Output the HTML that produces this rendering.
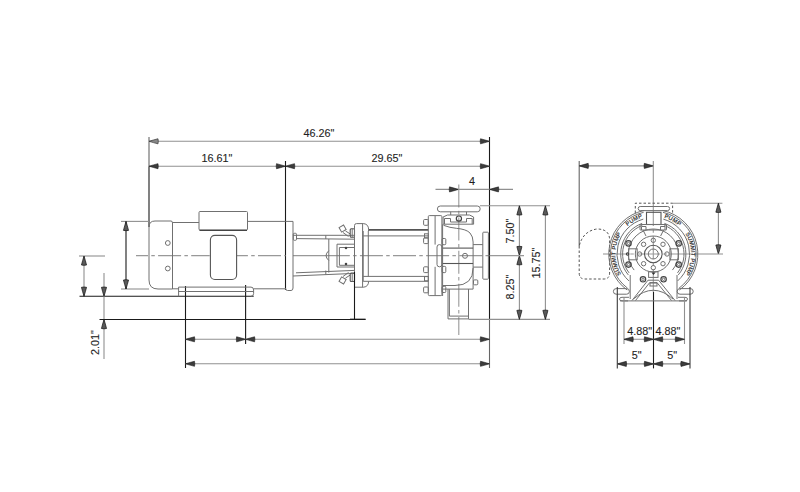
<!DOCTYPE html>
<html><head><meta charset="utf-8"><style>
html,body{margin:0;padding:0;background:#fff;width:800px;height:492px;overflow:hidden}
svg{display:block}
.g{fill:none;stroke:#707070;stroke-width:1}
.g2{fill:none;stroke:#444;stroke-width:1.2}
.g3{fill:none;stroke:#555;stroke-width:1.6}
.k{fill:none;stroke:#1a1a1a;stroke-width:1.1}
.lt3{font-family:"Liberation Sans",sans-serif;font-size:6px;font-weight:bold;fill:#3a3a3a;stroke:none}
.km{fill:none;stroke:#666;stroke-width:1.1}
.ah2{fill:#888;stroke:#333;stroke-width:0.7}
.k4{fill:none;stroke:#3a3a3a;stroke-width:1.1}
.ah3{fill:#5a5a5a;stroke:#111;stroke-width:0.7}
.lt{fill:none;stroke:#777;stroke-width:0.9}
.lt2{fill:none;stroke:#999;stroke-width:0.8}
.d{fill:none;stroke:#909090;stroke-width:1.1}
.c{fill:none;stroke:#999;stroke-width:1.1;stroke-dasharray:23 3.3 3.5 3.3}
.cs{fill:none;stroke:#999;stroke-width:1.1}
.g2l{fill:none;stroke:#555;stroke-width:1.1}
.dash{fill:none;stroke:#555;stroke-width:1;stroke-dasharray:2.5 2}
.ah{fill:#3c3c3c;stroke:#111;stroke-width:0.55}
text{font-family:"Liberation Sans",sans-serif;font-size:10.8px;fill:#1e1e1e;stroke:#1e1e1e;stroke-width:0.1}
</style></head><body>
<svg width="800" height="492" viewBox="0 0 800 492">
<line x1="149" y1="137" x2="149" y2="166.2" class="km"/>
<line x1="149" y1="166.2" x2="149" y2="227" class="k"/>
<line x1="489.5" y1="137" x2="489.5" y2="319.4" class="k"/>
<line x1="489.5" y1="319.4" x2="489.5" y2="368" class="km"/>
<line x1="149" y1="141.3" x2="489.5" y2="141.3" class="d"/>
<path d="M149.00,141.30 Q153.50,142.70 158.00,143.85 Q158.60,141.30 158.00,138.75 Q153.50,139.90 149.00,141.30 Z" class="ah2"/>
<path d="M489.50,141.30 Q485.00,139.90 480.50,138.75 Q479.90,141.30 480.50,143.85 Q485.00,142.70 489.50,141.30 Z" class="ah"/>
<text x="303.5" y="137" text-anchor="start">46.26&quot;</text>
<line x1="149" y1="166.2" x2="489.5" y2="166.2" class="d"/>
<path d="M149.00,166.20 Q153.50,167.60 158.00,168.75 Q158.60,166.20 158.00,163.65 Q153.50,164.80 149.00,166.20 Z" class="ah"/>
<path d="M285.50,166.20 Q281.00,164.80 276.50,163.65 Q275.90,166.20 276.50,168.75 Q281.00,167.60 285.50,166.20 Z" class="ah"/>
<path d="M285.50,166.20 Q290.00,167.60 294.50,168.75 Q295.10,166.20 294.50,163.65 Q290.00,164.80 285.50,166.20 Z" class="ah"/>
<path d="M489.50,166.20 Q485.00,164.80 480.50,163.65 Q479.90,166.20 480.50,168.75 Q485.00,167.60 489.50,166.20 Z" class="ah"/>
<text x="201.5" y="162" text-anchor="start">16.61&quot;</text>
<text x="371.5" y="161.5" text-anchor="start">29.65&quot;</text>
<line x1="285.5" y1="161" x2="285.5" y2="290" class="k"/>
<line x1="435.5" y1="189.4" x2="513" y2="189.4" class="d"/>
<path d="M458.50,189.40 Q454.00,188.00 449.50,186.85 Q448.90,189.40 449.50,191.95 Q454.00,190.80 458.50,189.40 Z" class="ah"/>
<path d="M489.50,189.40 Q494.00,190.80 498.50,191.95 Q499.10,189.40 498.50,186.85 Q494.00,188.00 489.50,189.40 Z" class="ah"/>
<text x="469" y="184.7" text-anchor="start">4</text>
<line x1="458.8" y1="184.5" x2="458.8" y2="335" class="c"/>
<line x1="480" y1="205.8" x2="550" y2="205.8" class="d"/>
<line x1="468.5" y1="319.4" x2="550" y2="319.4" class="d"/>
<line x1="519.4" y1="205.8" x2="519.4" y2="319.4" class="d"/>
<path d="M519.40,205.80 Q518.00,210.30 516.85,214.80 Q519.40,215.40 521.95,214.80 Q520.80,210.30 519.40,205.80 Z" class="ah3"/>
<path d="M519.40,255.60 Q520.80,251.10 521.95,246.60 Q519.40,246.00 516.85,246.60 Q518.00,251.10 519.40,255.60 Z" class="ah3"/>
<path d="M519.40,255.60 Q518.00,260.10 516.85,264.60 Q519.40,265.20 521.95,264.60 Q520.80,260.10 519.40,255.60 Z" class="ah3"/>
<path d="M519.40,319.40 Q520.80,314.90 521.95,310.40 Q519.40,309.80 516.85,310.40 Q518.00,314.90 519.40,319.40 Z" class="ah3"/>
<line x1="545.4" y1="205.8" x2="545.4" y2="319.4" class="d"/>
<path d="M545.40,205.80 Q544.00,210.30 542.85,214.80 Q545.40,215.40 547.95,214.80 Q546.80,210.30 545.40,205.80 Z" class="ah3"/>
<path d="M545.40,319.40 Q546.80,314.90 547.95,310.40 Q545.40,309.80 542.85,310.40 Q544.00,314.90 545.40,319.40 Z" class="ah3"/>
<text x="0" y="0" transform="translate(514,231) rotate(-90)" text-anchor="middle">7.50&quot;</text>
<text x="0" y="0" transform="translate(514,287) rotate(-90)" text-anchor="middle">8.25&quot;</text>
<text x="0" y="0" transform="translate(540,263) rotate(-90)" text-anchor="middle">15.75&quot;</text>
<line x1="136" y1="255.6" x2="209.7" y2="255.6" class="c" style="stroke-dashoffset:11"/>
<line x1="236.6" y1="255.6" x2="285.5" y2="255.6" class="c" style="stroke-dashoffset:11.7"/>
<line x1="293" y1="255.6" x2="328.8" y2="255.6" class="cs"/>
<line x1="328.8" y1="255.6" x2="489.5" y2="255.6" class="c" style="stroke-dashoffset:2"/>
<line x1="489.5" y1="255.6" x2="524" y2="255.6" class="cs"/>
<line x1="79" y1="256" x2="105" y2="256" class="d"/>
<line x1="84" y1="256" x2="84" y2="296.3" class="d"/>
<path d="M84.00,256.00 Q82.60,260.50 81.45,265.00 Q84.00,265.60 86.55,265.00 Q85.40,260.50 84.00,256.00 Z" class="ah3"/>
<path d="M84.00,296.30 Q85.40,291.80 86.55,287.30 Q84.00,286.70 81.45,287.30 Q82.60,291.80 84.00,296.30 Z" class="ah3"/>
<line x1="79.5" y1="296.3" x2="253.7" y2="296.3" class="k"/>
<line x1="104" y1="273" x2="104" y2="359" class="d"/>
<path d="M104.00,296.30 Q105.40,291.80 106.55,287.30 Q104.00,286.70 101.45,287.30 Q102.60,291.80 104.00,296.30 Z" class="ah3"/>
<path d="M104.00,319.50 Q102.60,324.00 101.45,328.50 Q104.00,329.10 106.55,328.50 Q105.40,324.00 104.00,319.50 Z" class="ah3"/>
<line x1="99.5" y1="319.5" x2="365.5" y2="319.5" class="k"/>
<text x="0" y="0" transform="translate(99,342.5) rotate(-90)" text-anchor="middle">2.01&quot;</text>
<line x1="121" y1="221.4" x2="149" y2="221.4" class="d"/>
<line x1="121" y1="289" x2="149" y2="289" class="d"/>
<line x1="126" y1="221.4" x2="126" y2="289" class="k"/>
<path d="M126.00,221.40 Q124.60,225.90 123.45,230.40 Q126.00,231.00 128.55,230.40 Q127.40,225.90 126.00,221.40 Z" class="ah3"/>
<path d="M126.00,289.00 Q127.40,284.50 128.55,280.00 Q126.00,279.40 123.45,280.00 Q124.60,284.50 126.00,289.00 Z" class="ah3"/>
<line x1="185.5" y1="286" x2="185.5" y2="368" class="k"/>
<line x1="245.6" y1="285" x2="245.6" y2="344" class="k"/>
<line x1="185.5" y1="339.3" x2="489.5" y2="339.3" class="d"/>
<path d="M185.50,339.30 Q190.00,340.70 194.50,341.85 Q195.10,339.30 194.50,336.75 Q190.00,337.90 185.50,339.30 Z" class="ah"/>
<path d="M245.60,339.30 Q241.10,337.90 236.60,336.75 Q236.00,339.30 236.60,341.85 Q241.10,340.70 245.60,339.30 Z" class="ah"/>
<path d="M245.60,339.30 Q250.10,340.70 254.60,341.85 Q255.20,339.30 254.60,336.75 Q250.10,337.90 245.60,339.30 Z" class="ah"/>
<path d="M489.50,339.30 Q485.00,337.90 480.50,336.75 Q479.90,339.30 480.50,341.85 Q485.00,340.70 489.50,339.30 Z" class="ah"/>
<line x1="185.5" y1="363.8" x2="489.5" y2="363.8" class="d"/>
<path d="M185.50,363.80 Q190.00,365.20 194.50,366.35 Q195.10,363.80 194.50,361.25 Q190.00,362.40 185.50,363.80 Z" class="ah"/>
<path d="M489.50,363.80 Q485.00,362.40 480.50,361.25 Q479.90,363.80 480.50,366.35 Q485.00,365.20 489.50,363.80 Z" class="ah"/>
<path d="M149,227 Q149,221 155,221 L171,221 Q172.5,221 172.5,223 L172.5,289 L158,289 Q149,289 149,280 Z" class="g"/>
<circle cx="167.8" cy="243" r="2.4" class="g"/>
<circle cx="167.8" cy="268.5" r="2.4" class="g"/>
<line x1="172.5" y1="222.5" x2="199" y2="222.5" class="g"/>
<rect x="199" y="211.5" width="48.5" height="18.5" rx="1" class="g"/>
<line x1="199.5" y1="230.3" x2="247" y2="230.3" class="g2"/>
<line x1="247.5" y1="221.4" x2="285.5" y2="221.4" class="g"/>
<rect x="210.4" y="235.4" width="26.2" height="44.1" rx="4.5" class="g2l"/>
<line x1="253.6" y1="288.8" x2="285.5" y2="288.8" class="g"/>
<line x1="172.5" y1="288.8" x2="178.6" y2="288.8" class="g"/>
<path d="M285.5,221.4 L293,221.4 L293,288 Q293,290.5 291,290.5 L287.5,290.5 Q285.5,290.5 285.5,288" class="g"/>
<path d="M178.6,296.3 L178.6,287.1 L251,287.1 Q253.6,287.1 253.6,290 L253.6,293.5 Q253.6,296.3 251,296.3" class="g"/>
<line x1="178.6" y1="291.5" x2="253.6" y2="291.5" class="g"/>
<line x1="293" y1="235.3" x2="354.5" y2="235.3" class="g"/>
<line x1="296" y1="238.6" x2="354.5" y2="239.2" class="g"/>
<line x1="296" y1="272.8" x2="354.5" y2="270.4" class="g"/>
<line x1="293" y1="276" x2="354.5" y2="273.4" class="g"/>
<rect x="293.3" y="233.3" width="3.2" height="7" rx="1" class="g"/>
<line x1="325.8" y1="235.3" x2="325.8" y2="239" class="g"/>
<line x1="325.8" y1="270.5" x2="325.8" y2="274.5" class="g"/>
<line x1="328.8" y1="239" x2="328.8" y2="272.6" class="g"/>
<path d="M328.8,250.7 Q323.3,255.6 328.8,260.5" class="g"/>
<path d="M354.5,244.2 L337,244.2 L337,267 L354.5,267" class="g"/>
<path d="M354.5,247.5 L339.4,247.5 L339.4,265.3 L354.5,265.3" class="g"/>
<circle cx="346" cy="248" r="0.7" class="g2"/>
<circle cx="346" cy="264" r="0.7" class="g2"/>
<g transform="translate(342.6,228.6) rotate(-30)"><rect x="-2.6" y="-2.6" width="5.2" height="5.2" class="g"/></g>
<path d="M343,232.5 L348.5,236.5 M345.5,231 L350,233.8" class="g"/>
<g transform="translate(342.6,280.4) rotate(30)"><rect x="-2.6" y="-2.6" width="5.2" height="5.2" class="g"/></g>
<path d="M343,276.5 L348.5,272.5 M345.5,278 L350,275.2" class="g"/>
<rect x="350.2" y="228.8" width="4.3" height="8.5" rx="1" class="g2l"/>
<line x1="352.2" y1="229" x2="352.2" y2="237.2" class="g"/>
<rect x="350.2" y="273" width="4.3" height="8.5" rx="1" class="g2l"/>
<line x1="352.2" y1="273.2" x2="352.2" y2="281.4" class="g"/>
<path d="M354.5,287.2 L354.5,225.5 Q354.5,223.6 356.5,223.6 L363.7,223.6 Q368.6,224.3 368.6,229.5 L368.6,231" class="g"/>
<line x1="362.6" y1="223.6" x2="362.6" y2="287.2" class="g"/>
<path d="M354.5,287.2 L363.7,287.2 Q368.6,286.5 368.6,281.3" class="g"/>
<line x1="368.6" y1="229.9" x2="428.3" y2="229.9" class="g3"/>
<line x1="363.2" y1="235.9" x2="428.3" y2="235.9" class="g"/>
<line x1="363.2" y1="276.4" x2="428.3" y2="276.4" class="g"/>
<line x1="363.2" y1="281.3" x2="428.3" y2="281.3" class="g"/>
<line x1="363.2" y1="231" x2="363.2" y2="281.3" class="g"/>
<line x1="368.3" y1="231" x2="368.3" y2="276.4" class="g"/>
<line x1="354.5" y1="272" x2="354.5" y2="319.3" class="k"/>
<line x1="350" y1="319.2" x2="365.6" y2="319.2" class="k"/>
<rect x="428.3" y="215.6" width="13.6" height="80" rx="1" class="g"/>
<line x1="435.1" y1="216" x2="435.1" y2="244.6" class="g"/>
<line x1="435.1" y1="266.8" x2="435.1" y2="295.5" class="g"/>
<rect x="423.6" y="219.5" width="4.7" height="5.8" rx="1" class="g"/>
<rect x="423.6" y="237.8" width="4.7" height="5.8" rx="1" class="g"/>
<rect x="423.6" y="266.8" width="4.7" height="5.8" rx="1" class="g"/>
<rect x="423.6" y="287" width="4.7" height="5.8" rx="1" class="g"/>
<rect x="424.5" y="233.8" width="3.8" height="4.2" rx="0" class="g"/>
<rect x="424.5" y="276.6" width="3.8" height="4.2" rx="0" class="g"/>
<rect x="442" y="238.5" width="3.8" height="6.2" rx="1" class="g"/>
<rect x="442" y="266.4" width="3.8" height="6.2" rx="1" class="g"/>
<rect x="442" y="286.3" width="3.8" height="6.2" rx="1" class="g"/>
<rect x="437" y="244.6" width="4.9" height="22.2" rx="2.4" class="g"/>
<rect x="437.4" y="206" width="42.8" height="5.8" rx="2.9" class="g"/>
<line x1="450.7" y1="211.8" x2="450.7" y2="215" class="g"/>
<line x1="466.5" y1="211.8" x2="466.5" y2="215" class="g"/>
<path d="M443.1,224.2 L443.1,217 L447.5,215 L469.5,215 L473.6,217 L473.6,224.2 Z" class="g"/>
<path d="M444.5,224 L444.5,218.5 L450.5,218.5 L450.5,222 L466.5,222 L466.5,218.5 L472.2,218.5 L472.2,224" class="g"/>
<circle cx="458.9" cy="218.6" r="2.6" class="g2"/>
<path d="M443.5,225.3 Q450,227.8 456.3,228.3 Q466.5,229.2 470,233 Q473.1,236.5 473.1,242 L473.1,289.1" class="g"/>
<line x1="442.6" y1="248.1" x2="473.1" y2="248.1" class="g2l"/>
<line x1="442.6" y1="263.5" x2="473.1" y2="263.5" class="g2l"/>
<circle cx="465" cy="255.8" r="2.5" class="g"/>
<path d="M473.1,268 Q473.1,285.5 455,285.5 L443,285.5" class="g"/>
<line x1="443" y1="289.1" x2="473.1" y2="289.1" class="g"/>
<line x1="442.6" y1="224.2" x2="442.6" y2="296" class="g"/>
<rect x="482.8" y="232.2" width="5.6" height="47" rx="0.8" class="g"/>
<line x1="473.1" y1="244.6" x2="482.8" y2="244.6" class="g"/>
<line x1="473.1" y1="267.1" x2="482.8" y2="267.1" class="g"/>
<rect x="473.5" y="279.9" width="4.3" height="4.9" rx="1" class="g"/>
<path d="M448,289.1 L448,318.9 L468.5,318.9 L468.5,289.1" class="g"/>
<path d="M449.4,289.1 L449.4,316.1 L468.5,316.1" class="g"/>
<line x1="579.2" y1="161" x2="579.2" y2="246" class="km"/>
<line x1="579.2" y1="165.9" x2="653.3" y2="165.9" class="d"/>
<path d="M579.20,165.90 Q583.70,167.30 588.20,168.45 Q588.80,165.90 588.20,163.35 Q583.70,164.50 579.20,165.90 Z" class="ah"/>
<path d="M653.30,165.90 Q648.80,164.50 644.30,163.35 Q643.70,165.90 644.30,168.45 Q648.80,167.30 653.30,165.90 Z" class="ah"/>
<line x1="653.3" y1="161" x2="653.3" y2="203" class="d"/>
<line x1="653.3" y1="203" x2="653.3" y2="292" class="c"/>
<line x1="653.5" y1="292" x2="653.5" y2="368.4" class="k"/>
<path d="M635.3,213 L635.3,203.2 L672.6,203.2 L672.6,213" class="dash"/>
<rect x="638.2" y="206.5" width="31.4" height="4.1" rx="2" class="g"/>
<line x1="672.6" y1="203.2" x2="722.4" y2="203.2" class="d"/>
<line x1="718.4" y1="203.2" x2="718.4" y2="254" class="d"/>
<path d="M718.40,203.20 Q717.00,207.70 715.85,212.20 Q718.40,212.80 720.95,212.20 Q719.80,207.70 718.40,203.20 Z" class="ah3"/>
<path d="M718.40,254.00 Q719.80,249.50 720.95,245.00 Q718.40,244.40 715.85,245.00 Q717.00,249.50 718.40,254.00 Z" class="ah3"/>
<line x1="603" y1="254" x2="612" y2="254" class="cs"/>
<line x1="612" y1="254" x2="694" y2="254" class="c" style="stroke-dashoffset:8"/>
<line x1="694" y1="254" x2="723" y2="254" class="cs"/>
<path d="M579.2,246 L579.2,273 Q579.2,279 585,279 L604,279 Q609.6,279 609.6,273 L609.6,240 Q609.6,229 597,229 Q583,231 579.2,246" class="dash"/>
<path d="M627.14,290.00 A44.5,44.5 0 0 1 644.05,210.47" class="g"/>
<path d="M662.55,210.47 A44.5,44.5 0 0 1 679.46,290.00" class="g"/>
<path d="M627.54,288.18 A42.8,42.8 0 0 1 643.67,212.30" class="g"/>
<path d="M662.93,212.30 A42.8,42.8 0 0 1 679.06,288.18" class="g"/>
<path d="M629.01,280.98 A36.3,36.3 0 0 1 643.29,219.11" class="g"/>
<path d="M663.31,219.11 A36.3,36.3 0 0 1 677.59,280.98" class="g"/>
<path d="M628.33,274.95 A32.6,32.6 0 0 1 642.15,223.37" class="g"/>
<path d="M664.45,223.37 A32.6,32.6 0 0 1 678.27,274.95" class="g"/>
<path d="M629.11,272.90 A30.7,30.7 0 0 1 642.30,225.34" class="g"/>
<path d="M664.30,225.34 A30.7,30.7 0 0 1 677.49,272.90" class="g"/>
<text class="lt3" text-anchor="middle" transform="translate(620.34,272.50) rotate(240.7)">S</text>
<text class="lt3" text-anchor="middle" transform="translate(618.50,268.76) rotate(247.0)">U</text>
<text class="lt3" text-anchor="middle" transform="translate(616.95,264.37) rotate(254.1)">M</text>
<text class="lt3" text-anchor="middle" transform="translate(615.90,259.48) rotate(261.7)">M</text>
<text class="lt3" text-anchor="middle" transform="translate(615.56,256.17) rotate(266.7)">I</text>
<text class="lt3" text-anchor="middle" transform="translate(615.50,253.50) rotate(270.8)">T</text>
<text class="lt3" text-anchor="middle" transform="translate(615.98,248.03) rotate(279.1)">P</text>
<text class="lt3" text-anchor="middle" transform="translate(616.86,243.96) rotate(285.4)">U</text>
<text class="lt3" text-anchor="middle" transform="translate(618.37,239.55) rotate(292.5)">M</text>
<text class="lt3" text-anchor="middle" transform="translate(620.34,235.50) rotate(299.3)">P</text>
<text class="lt3" text-anchor="middle" transform="translate(686.26,235.50) rotate(60.7)">S</text>
<text class="lt3" text-anchor="middle" transform="translate(688.10,239.24) rotate(67.0)">U</text>
<text class="lt3" text-anchor="middle" transform="translate(689.65,243.63) rotate(74.1)">M</text>
<text class="lt3" text-anchor="middle" transform="translate(690.70,248.52) rotate(81.7)">M</text>
<text class="lt3" text-anchor="middle" transform="translate(691.04,251.83) rotate(86.7)">I</text>
<text class="lt3" text-anchor="middle" transform="translate(691.10,254.50) rotate(90.8)">T</text>
<text class="lt3" text-anchor="middle" transform="translate(690.62,259.97) rotate(99.1)">P</text>
<text class="lt3" text-anchor="middle" transform="translate(689.74,264.04) rotate(105.4)">U</text>
<text class="lt3" text-anchor="middle" transform="translate(688.23,268.45) rotate(112.5)">M</text>
<text class="lt3" text-anchor="middle" transform="translate(686.26,272.50) rotate(119.3)">P</text>
<text class="lt3" text-anchor="middle" transform="translate(629.10,224.96) rotate(320.2)">P</text>
<text class="lt3" text-anchor="middle" transform="translate(632.44,222.47) rotate(326.5)">U</text>
<text class="lt3" text-anchor="middle" transform="translate(636.48,220.15) rotate(333.6)">M</text>
<text class="lt3" text-anchor="middle" transform="translate(640.62,218.39) rotate(340.4)">P</text>
<text class="lt3" text-anchor="middle" transform="translate(665.98,218.39) rotate(379.6)">P</text>
<text class="lt3" text-anchor="middle" transform="translate(669.82,220.00) rotate(385.9)">U</text>
<text class="lt3" text-anchor="middle" transform="translate(673.88,222.29) rotate(393.0)">M</text>
<text class="lt3" text-anchor="middle" transform="translate(677.50,224.96) rotate(399.8)">P</text>
<path d="M634.15,270.07 A25,25 0 1 1 672.45,270.07" class="g"/>
<circle cx="653.3" cy="254" r="18" class="g"/>
<circle cx="653.3" cy="254" r="8.8" class="g2l"/>
<circle cx="653.3" cy="254" r="5" class="g"/>
<circle cx="667.0" cy="254.0" r="2.2" class="g"/>
<circle cx="662.99" cy="263.69" r="2.2" class="g"/>
<circle cx="653.3" cy="267.7" r="2.2" class="g"/>
<circle cx="643.61" cy="263.69" r="2.2" class="g"/>
<circle cx="639.6" cy="254.0" r="2.2" class="g"/>
<circle cx="643.61" cy="244.31" r="2.2" class="g"/>
<circle cx="653.3" cy="240.3" r="2.2" class="g"/>
<circle cx="662.99" cy="244.31" r="2.2" class="g"/>
<circle cx="628.5" cy="243.4" r="2.7" class="g2"/>
<circle cx="628.5" cy="243.4" r="1.2" class="g"/>
<circle cx="678.7" cy="243.4" r="2.7" class="g2"/>
<circle cx="678.7" cy="243.4" r="1.2" class="g"/>
<circle cx="628.5" cy="264.6" r="2.7" class="g2"/>
<circle cx="628.5" cy="264.6" r="1.2" class="g"/>
<circle cx="678.7" cy="264.6" r="2.7" class="g2"/>
<circle cx="678.7" cy="264.6" r="1.2" class="g"/>
<circle cx="643" cy="279.3" r="2.7" class="g2"/>
<circle cx="643" cy="279.3" r="1.2" class="g"/>
<circle cx="663.6" cy="279.3" r="2.7" class="g2"/>
<circle cx="663.6" cy="279.3" r="1.2" class="g"/>
<rect x="628.7" y="248.8" width="8.5" height="11" rx="0" class="g"/>
<rect x="669.9" y="248.8" width="8.5" height="11" rx="0" class="g"/>
<circle cx="627.6" cy="254" r="1.2" class="g2"/>
<rect x="646.5" y="212.3" width="14.5" height="12.2" rx="0" class="g2l"/>
<rect x="640" y="224.5" width="26.5" height="5.5" rx="0.5" class="g"/>
<path d="M641.5,230 L641.5,226.5 L646,226.5 L646,230 M665,230 L665,226.5 L660.5,226.5 L660.5,230" class="g"/>
<path d="M643,230 L646,236 M663.6,230 L660.6,236" class="g"/>
<rect x="648.6" y="271.8" width="9.4" height="5.6" rx="0" class="g"/>
<polygon points="651.5,272.5 655.5,272.5 653.5,275" fill="#333"/>
<rect x="650" y="283" width="7" height="3" rx="0" class="g"/>
<line x1="630.2" y1="275" x2="630.2" y2="299" class="g"/>
<line x1="677" y1="275" x2="677" y2="299" class="g"/>
<polyline points="632,300.5 648,280.2 658.6,280.2 675,300.5" class="g"/>
<polyline points="635.5,300.5 649.7,282.6 657,282.6 671.5,300.5" class="g"/>
<path d="M633.5,299 Q653.3,281.5 673,299" class="g"/>
<rect x="613.4" y="288.6" width="16" height="5.6" rx="2.8" class="g"/>
<rect x="677.2" y="288.6" width="16" height="5.6" rx="2.8" class="g"/>
<line x1="620" y1="300.9" x2="687" y2="300.9" class="g"/>
<path d="M628,300.9 L622,300.9 Q619.5,300.9 619.5,299 Q619.5,297.3 622,297.3 L629,297.3" class="g"/>
<path d="M679,300.9 L685,300.9 Q687.5,300.9 687.5,299 Q687.5,297.3 685,297.3 L678,297.3" class="g"/>
<line x1="617.3" y1="287" x2="617.3" y2="368.4" class="k4"/>
<line x1="690" y1="287" x2="690" y2="368.4" class="k4"/>
<line x1="624" y1="298" x2="624" y2="344" class="d"/>
<line x1="684.5" y1="298" x2="684.5" y2="344" class="d"/>
<line x1="624" y1="339.3" x2="684.5" y2="339.3" class="d"/>
<path d="M624.00,339.30 Q628.50,340.70 633.00,341.85 Q633.60,339.30 633.00,336.75 Q628.50,337.90 624.00,339.30 Z" class="ah"/>
<path d="M653.50,339.30 Q649.00,337.90 644.50,336.75 Q643.90,339.30 644.50,341.85 Q649.00,340.70 653.50,339.30 Z" class="ah"/>
<path d="M653.50,339.30 Q658.00,340.70 662.50,341.85 Q663.10,339.30 662.50,336.75 Q658.00,337.90 653.50,339.30 Z" class="ah"/>
<path d="M684.50,339.30 Q680.00,337.90 675.50,336.75 Q674.90,339.30 675.50,341.85 Q680.00,340.70 684.50,339.30 Z" class="ah"/>
<line x1="617.3" y1="363.9" x2="690" y2="363.9" class="d"/>
<path d="M617.30,363.90 Q621.80,365.30 626.30,366.45 Q626.90,363.90 626.30,361.35 Q621.80,362.50 617.30,363.90 Z" class="ah"/>
<path d="M653.50,363.90 Q649.00,362.50 644.50,361.35 Q643.90,363.90 644.50,366.45 Q649.00,365.30 653.50,363.90 Z" class="ah"/>
<path d="M653.50,363.90 Q658.00,365.30 662.50,366.45 Q663.10,363.90 662.50,361.35 Q658.00,362.50 653.50,363.90 Z" class="ah"/>
<path d="M690.00,363.90 Q685.50,362.50 681.00,361.35 Q680.40,363.90 681.00,366.45 Q685.50,365.30 690.00,363.90 Z" class="ah"/>
<text x="627.2" y="334.9" text-anchor="start">4.88&quot;</text>
<text x="655.4" y="334.9" text-anchor="start">4.88&quot;</text>
<text x="631.7" y="359.3" text-anchor="start">5&quot;</text>
<text x="667.2" y="359.3" text-anchor="start">5&quot;</text>
</svg></body></html>
